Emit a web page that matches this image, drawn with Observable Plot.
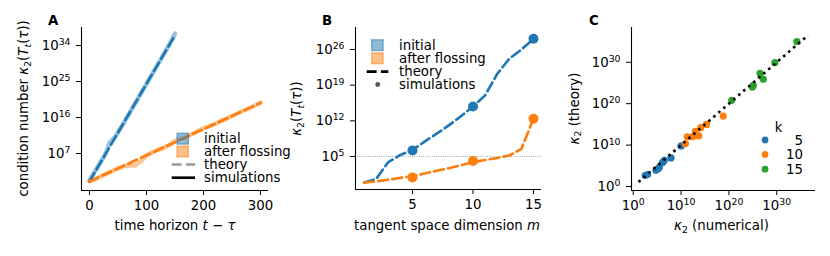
<!DOCTYPE html>
<html><head><meta charset="utf-8">
<script src="https://cdn.jsdelivr.net/npm/d3@7"></script>
<script src="https://cdn.jsdelivr.net/npm/@observablehq/plot@0.6"></script>
<style>
body{margin:0;background:#fff}
#fig{position:relative;width:830px;height:256px;font-family:"DejaVu Sans";background:#fff}
#fig svg{position:absolute;top:0}
</style></head><body><div id="fig"></div>
<script>
// ---------- Panel A data ----------
const horizonTicks = [0, 100, 200, 300];
const condTicksA = [1e7, 1e16, 1e25, 1e34];
const horizonInitial = [0,5,10,15,20,25,30,35,40,45,50,55,60,65,70,75,80,85,90,95,100,105,110,115,120,125,130,135,140,145,150];
const simInitialExp = [0.2,1.5,2.6,3.8,5.0,6.1,7.5,9.6,10.4,11.2,12.3,13.4,14.6,15.9,17.0,18.4,19.5,20.7,22.0,23.2,24.4,25.7,26.8,28.1,29.3,30.5,31.8,33.0,34.2,35.5,37.0];
const horizonFloss = [0,10,20,30,40,50,60,70,80,90,100,110,120,130,140,150,160,170,180,190,200,210,220,230,240,250,260,270,280,290,300];
const simFlossExp = [0.1,0.5,1.3,2.0,2.6,3.3,3.8,4.0,4.0,5.0,6.5,7.3,7.9,8.4,9.1,10.1,10.7,11.1,11.9,12.7,13.3,13.8,14.4,15.1,15.7,16.4,17.0,17.7,18.3,19.0,19.7];
const theoryInitialT = [0, 150];
const theoryInitialExp = [0, 36.6];
const theoryFlossT = [0, 300];
const theoryFlossExp = [0, 19.65];

// ---------- Panel B data ----------
const dimTicks = [5, 10, 15];
const condTicksB = [1e5, 1e12, 1e19, 1e26];
const dims = [1,2,3,4,5,6,7,8,9,10,11,12,13,14,15];
const theoryInitialExpB = [-0.1,0.6,3.9,5.3,6.3,7.9,9.5,11.1,12.9,14.8,17.0,21.2,24.2,26.0,28.1];
const theoryFlossExpB = [-0.1,0.1,0.45,0.8,1.15,1.65,2.2,2.7,3.3,3.9,4.3,4.7,5.2,6.5,12.4];
const simDims = [5, 10, 15];
const simInitialExpB = [6.2, 14.8, 28.1];
const simFlossExpB = [0.9, 4.1, 12.4];
const thresholdB = [1e5];

// ---------- Panel C data ----------
const powTicksC = [1, 1e10, 1e20, 1e30];
const kLabels = ["5", "10", "15"];
const k5Numerical = [2.5, 3.0, 4.75, 5.2, 5.5, 6.15, 6.5, 7.9, 10.0];
const k5Theory    = [2.65, 2.9, 3.9, 4.3, 4.7, 5.8, 6.3, 6.9, 9.8];
const k10Numerical = [10.9, 11.3, 12.4, 13.0, 13.7, 14.1, 15.3, 18.8];
const k10Theory    = [10.3, 12.0, 12.0, 13.3, 12.2, 14.2, 15.0, 17.0];
const k15Numerical = [20.6, 24.9, 25.1, 26.5, 27.2, 29.6, 34.2];
const k15Theory    = [20.8, 24.0, 24.4, 27.3, 25.9, 29.9, 35.0];
const identityExp = [1.1, 36.6];

// ---------- helpers ----------
const C1 = "#1f77b4", C2 = "#ff7f0e", C3 = "#2ca02c";
const pow = e => 10 ** e;
const fmtPow = d => "10^" + Math.round(Math.log10(d));
const FS = 13.33, SFS = 9.33;
const base = {fontFamily: "DejaVu Sans", fontSize: FS + "px", color: "black", background: "transparent", overflow: "visible"};
const DASH = "9.9,4.3";
const fig = document.getElementById("fig");

function supTicks(svg) {
  d3.select(svg).selectAll('g[aria-label$="tick label"] text').each(function() {
    const s = this.textContent;
    if (s.includes("^")) {
      const [b, e] = s.split("^");
      const t = d3.select(this); t.text(b);
      t.append("tspan").attr("dy", -4.7).attr("font-size", SFS).text(e);
    }
  });
}
function rich(sel, parts) {
  let shift = 0;
  for (const [str, st = ""] of parts) {
    const ts = sel.append("tspan").text(str);
    let target = 0;
    if (st.includes("s")) { target = 2.6; ts.attr("font-size", SFS); }
    if (st.includes("i")) ts.attr("font-style", "italic");
    if (target !== shift) { ts.attr("dy", target - shift); shift = target; }
  }
}
function ylabel(svg, x, y, parts) {
  const t = d3.select(svg).append("text").attr("transform", `translate(${x},${y}) rotate(-90)`)
    .attr("text-anchor", "middle").attr("font-size", FS).attr("fill", "black");
  rich(t, parts);
}
function xlabel(svg, x, y, parts) {
  const t = d3.select(svg).append("text").attr("x", x).attr("y", y)
    .attr("text-anchor", "middle").attr("font-size", FS).attr("fill", "black");
  rich(t, parts);
}
function letter(svg, x, y, s) {
  d3.select(svg).append("text").attr("x", x).attr("y", y).attr("font-weight", "bold")
    .attr("text-anchor", "start").attr("font-size", FS).attr("fill", "black").text(s);
}
function legText(g, x, y, s) {
  g.append("text").attr("x", x).attr("y", y).attr("dy", "0.35em").attr("text-anchor", "start")
    .attr("font-size", FS).attr("fill", "black").text(s);
}
function legPatch(g, x, y, c) {
  g.append("rect").attr("x", x).attr("y", y - 5.4).attr("width", 11.4).attr("height", 10.8)
    .attr("fill", c).attr("fill-opacity", 0.5).attr("stroke", c).attr("stroke-opacity", 0.55).attr("stroke-width", 1.3);
}
function legLine(g, x1, x2, y, c, dash) {
  const l = g.append("line").attr("x1", x1).attr("x2", x2).attr("y1", y).attr("y2", y)
    .attr("stroke", c).attr("stroke-width", 2.67);
  if (dash) l.attr("stroke-dasharray", dash);
}

// ---------- Panel A ----------
const initialSim = horizonInitial.map((t, i) => ({t, k: pow(simInitialExp[i])}));
const flossSim = horizonFloss.map((t, i) => ({t, k: pow(simFlossExp[i])}));
const initialTh = theoryInitialT.map((t, i) => ({t, k: pow(theoryInitialExp[i])}));
const flossTh = theoryFlossT.map((t, i) => ({t, k: pow(theoryFlossExp[i])}));
const xDomA = [-14, 314], yDomA = [pow(-2.25), pow(38.5)];
const svgA = Plot.plot({
  width: 290, height: 256, marginLeft: 81, marginRight: 22, marginTop: 27, marginBottom: 66,
  style: base,
  x: {domain: xDomA, ticks: horizonTicks, tickSize: 5, tickPadding: 5, label: null},
  y: {type: "log", domain: yDomA, ticks: condTicksA, tickFormat: fmtPow, tickSize: 5, tickPadding: 6, label: null},
  marks: [
    Plot.line(initialSim, {x: "t", y: "k", stroke: C1, strokeWidth: 4.5, strokeOpacity: 0.45}),
    Plot.line(flossSim, {x: "t", y: "k", stroke: C2, strokeWidth: 4.5, strokeOpacity: 0.45}),
    Plot.line(initialTh, {x: "t", y: "k", stroke: C1, strokeWidth: 2.67, strokeDasharray: DASH}),
    Plot.line(flossTh, {x: "t", y: "k", stroke: C2, strokeWidth: 2.67, strokeDasharray: DASH}),
    Plot.ruleX([xDomA[0]], {stroke: "black", strokeWidth: 1.1}),
    Plot.ruleY([yDomA[0]], {stroke: "black", strokeWidth: 1.1})
  ]
});
svgA.style.left = "0px";
fig.appendChild(svgA);
supTicks(svgA);
letter(svgA, 48, 25, "A");
ylabel(svgA, 28, 108.5, [["condition number "], ["κ", "i"], ["2", "s"], ["("], ["T", "i"], ["t", "is"], ["("], ["τ", "i"], ["))"]]);
xlabel(svgA, 175, 230, [["time horizon "], ["t", "i"], [" − "], ["τ", "i"]]);
{
  const g = d3.select(svgA).append("g");
  legPatch(g, 177, 138.7, C1); legText(g, 204, 138.7, "initial");
  legPatch(g, 177, 151.5, C2); legText(g, 204, 151.5, "after flossing");
  legLine(g, 171.7, 195, 164.5, "#999", DASH); legText(g, 204, 164.5, "theory");
  legLine(g, 171.7, 195, 177.7, "black"); legText(g, 204, 177.7, "simulations");
}

// ---------- Panel B ----------
const initialThB = dims.map((m, i) => ({m, k: pow(theoryInitialExpB[i])}));
const flossThB = dims.map((m, i) => ({m, k: pow(theoryFlossExpB[i])}));
const simB = [
  ...simDims.map((m, i) => ({m, k: pow(simInitialExpB[i]), c: C1})),
  ...simDims.map((m, i) => ({m, k: pow(simFlossExpB[i]), c: C2}))
];
const xDomB = [0.29, 15.66], yDomB = [pow(-1.48), pow(30.32)];
const svgB = Plot.plot({
  width: 270, height: 256, marginLeft: 65, marginRight: 19, marginTop: 27, marginBottom: 67,
  style: base,
  x: {domain: xDomB, ticks: dimTicks, tickSize: 5, tickPadding: 5, label: null},
  y: {type: "log", domain: yDomB, ticks: condTicksB, tickFormat: fmtPow, tickSize: 5, tickPadding: 6, label: null},
  marks: [
    Plot.ruleY(thresholdB, {stroke: "#777", strokeWidth: 0.8, strokeDasharray: "0.8,1.4"}),
    Plot.line(initialThB, {x: "m", y: "k", stroke: C1, strokeWidth: 2.67, strokeDasharray: DASH}),
    Plot.line(flossThB, {x: "m", y: "k", stroke: C2, strokeWidth: 2.67, strokeDasharray: DASH}),
    Plot.dot(simB, {x: "m", y: "k", fill: "c", r: 5}),
    Plot.ruleX([xDomB[0]], {stroke: "black", strokeWidth: 1.1}),
    Plot.ruleY([yDomB[0]], {stroke: "black", strokeWidth: 1.1})
  ]
});
svgB.style.left = "290px";
fig.appendChild(svgB);
supTicks(svgB);
letter(svgB, 32, 25, "B");
ylabel(svgB, 11, 108.5, [["κ", "i"], ["2", "s"], ["("], ["T", "i"], ["t", "is"], ["("], ["τ", "i"], ["))"]]);
xlabel(svgB, 157, 230, [["tangent space dimension "], ["m", "i"]]);
{
  const g = d3.select(svgB).append("g");
  legPatch(g, 81.7, 45.2, C1); legText(g, 109, 45.2, "initial");
  legPatch(g, 81.7, 58.3, C2); legText(g, 109, 58.3, "after flossing");
  legLine(g, 76.7, 98.3, 71.7, "black", DASH); legText(g, 109, 71.7, "theory");
  g.append("circle").attr("cx", 87.7).attr("cy", 84.5).attr("r", 2.4).attr("fill", "#555");
  legText(g, 109, 84.5, "simulations");
}

// ---------- Panel C ----------
const ptsC = [
  ...k5Numerical.map((x, i) => ({x: pow(x), y: pow(k5Theory[i]), k: kLabels[0]})),
  ...k10Numerical.map((x, i) => ({x: pow(x), y: pow(k10Theory[i]), k: kLabels[1]})),
  ...k15Numerical.map((x, i) => ({x: pow(x), y: pow(k15Theory[i]), k: kLabels[2]}))
];
const diag = identityExp.map(e => ({x: pow(e), y: pow(e)}));
const xDomC = [pow(-0.36), pow(38.1)], yDomC = [pow(-0.97), pow(38.4)];
const svgC = Plot.plot({
  width: 270, height: 256, marginLeft: 71, marginRight: 15, marginTop: 27, marginBottom: 66,
  style: base,
  x: {type: "log", domain: xDomC, ticks: powTicksC, tickFormat: fmtPow, tickSize: 5, tickPadding: 5, label: null},
  y: {type: "log", domain: yDomC, ticks: powTicksC, tickFormat: fmtPow, tickSize: 5, tickPadding: 6, label: null},
  color: {domain: kLabels, range: [C1, C2, C3]},
  marks: [
    Plot.dot(ptsC, {x: "x", y: "y", fill: "k", r: 3.6}),
    Plot.line(diag, {x: "x", y: "y", stroke: "black", strokeWidth: 2.6, strokeDasharray: "2.6,4.0", strokeLinecap: "butt"}),
    Plot.ruleX([xDomC[0]], {stroke: "black", strokeWidth: 1.1}),
    Plot.ruleY([yDomC[0]], {stroke: "black", strokeWidth: 1.1})
  ]
});
svgC.style.left = "560px";
fig.appendChild(svgC);
supTicks(svgC);
letter(svgC, 29, 25, "C");
ylabel(svgC, 18.5, 108.5, [["κ", "i"], ["2", "s"], [" (theory)"]]);
xlabel(svgC, 161.5, 230, [["κ", "i"], ["2", "s"], [" (numerical)"]]);
{
  const g = d3.select(svgC).append("g");
  g.append("text").attr("x", 218.5).attr("y", 127).attr("dy", "0.35em").attr("text-anchor", "middle")
    .attr("font-size", FS).attr("fill", "black").text("k");
  const rows = [140, 154.5, 169.2], cols = [C1, C2, C3];
  kLabels.forEach((lab, i) => {
    g.append("circle").attr("cx", 205).attr("cy", rows[i]).attr("r", 3.4).attr("fill", cols[i]);
    g.append("text").attr("x", 243).attr("y", rows[i]).attr("dy", "0.35em").attr("text-anchor", "end")
      .attr("font-size", FS).attr("fill", "black").text(lab);
  });
}
</script></body></html>
